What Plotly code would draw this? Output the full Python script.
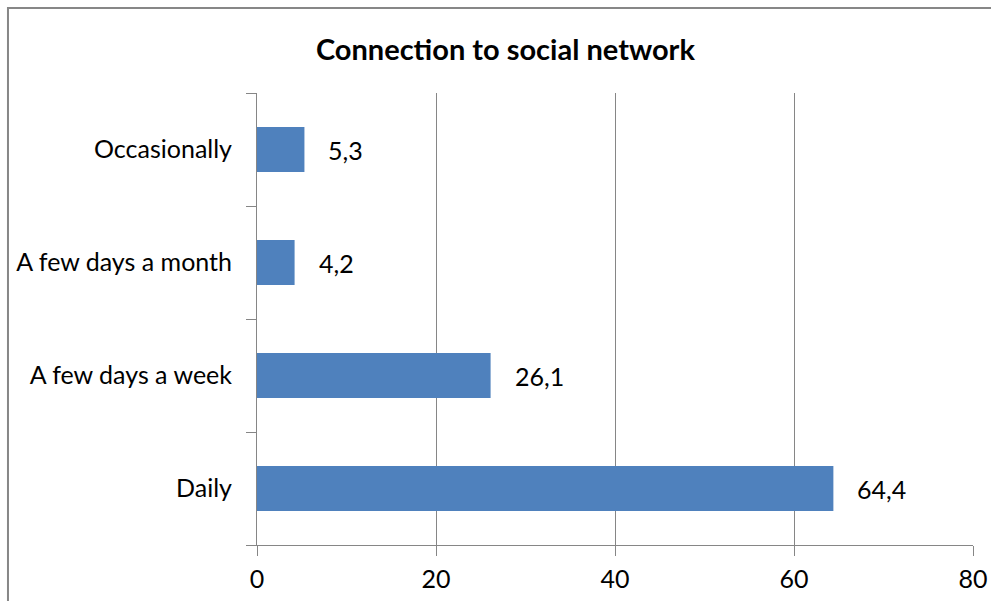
import plotly.graph_objects as go

# Connection to social network (%)
categories = ["Daily", "A few days a week", "A few days a month", "Occasionally"]
values = [64.4, 26.1, 4.2, 5.3]
value_labels = ["64,4", "26,1", "4,2", "5,3"]
x_ticks = [0, 20, 40, 60, 80]

font_family = "Lato, Open Sans, sans-serif"

fig = go.Figure()

fig.add_trace(go.Bar(
    y=categories, x=values, orientation="h",
    marker=dict(color="#4F81BD", line=dict(width=0)),
    hoverinfo="x+y",
))

# value labels sit a little to the right of each bar
for cat, v, lab in zip(categories, values, value_labels):
    fig.add_annotation(x=v, y=cat, text=lab, showarrow=False,
                       xanchor="left", xshift=22,
                       font=dict(size=25, color="#000000", family=font_family))

# grey frame around the whole chart (right and bottom sides fall off the page)
fig.add_shape(type="rect", xref="paper", yref="paper",
              x0=-0.3478, x1=1.05, y0=-0.16, y1=1.188,
              line=dict(color="#878787", width=2), layer="below")

fig.update_layout(
    width=991, height=601,
    margin=dict(l=257, r=18, t=93, b=56),
    paper_bgcolor="white", plot_bgcolor="white",
    bargap=0.6, showlegend=False,
    font=dict(family=font_family, size=25, color="#000000"),
    title=dict(text="<b>Connection to social network</b>",
               x=0.51, xanchor="center", y=0.917, yanchor="middle",
               font=dict(size=29, family=font_family, color="#000000")),
)

fig.update_xaxes(range=[0, 80], tickvals=x_ticks,
                 showgrid=True, gridcolor="#868686", gridwidth=1,
                 showline=True, linecolor="#868686", linewidth=1,
                 ticks="outside", ticklen=10, tickcolor="#868686",
                 zeroline=False, tickfont=dict(size=25), ticklabelstandoff=2,
                 automargin=False, ticklabeloverflow="allow")
fig.update_yaxes(categoryorder="array", categoryarray=categories,
                 showgrid=False, showline=True, linecolor="#868686", linewidth=1,
                 ticks="outside", ticklen=10, tickcolor="#868686",
                 tickson="boundaries", ticklabelstandoff=19,
                 tickfont=dict(size=25), automargin=False)

# drop the default 8px body margin so the 991x601 figure fills the window
fig.write_html("out.html", config={"displayModeBar": False},
               post_script="document.body.style.margin = '0px';")
